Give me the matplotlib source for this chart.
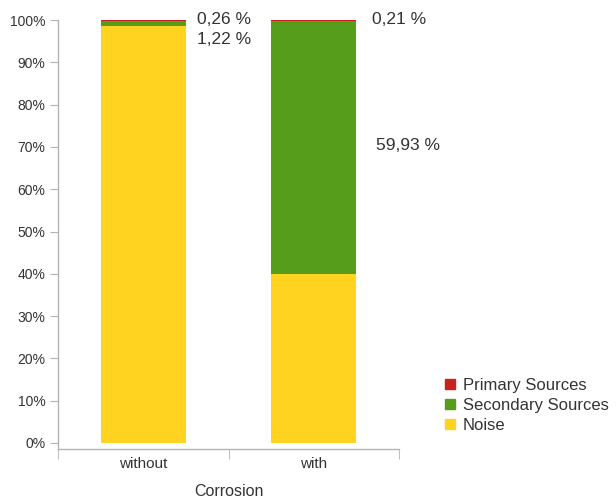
import matplotlib
matplotlib.use("Agg")
import matplotlib.pyplot as plt
import numpy as np
from matplotlib.patches import Patch

plt.rcParams["font.family"] = ["Liberation Sans", "DejaVu Sans"]

categories = ["without", "with"]
noise = [98.52, 39.86]
secondary = [1.22, 59.93]
primary = [0.26, 0.21]
series_names = ["Primary Sources", "Secondary Sources", "Noise"]

C_NOISE = "#FFD320"
C_SEC = "#579D1C"
C_PRI = "#C9211E"
TXT = "#333333"
GRID = "#b3b3b3"

W, H = 616, 501
fig = plt.figure(figsize=(W / 100, H / 100), dpi=100)
ax = fig.add_axes([58 / W, (H - 449) / H, (399 - 58) / W, (449 - 20) / H])

x = np.arange(len(categories))
n = np.array(noise) / 100
s = np.array(secondary) / 100
p = np.array(primary) / 100
ax.bar(x, n, 0.5, color=C_NOISE, linewidth=0)
ax.bar(x, s, 0.5, bottom=n, color=C_SEC, linewidth=0)
ax.bar(x, p, 0.5, bottom=n + s, color=C_PRI, linewidth=0)

ax.set_xlim(-0.5, 1.5)
ax.set_ylim(-6 / 423, 1.0)

ax.set_yticks(np.linspace(0, 1, 11))
ax.set_yticklabels([f"{v}%" for v in range(0, 101, 10)], fontsize=10, color=TXT)
ax.set_xticks(x)
ax.set_xticklabels(categories, fontsize=11, color=TXT)
ax.set_xticks([-0.5, 0.5, 1.5], minor=True)
ax.tick_params(axis="x", which="major", length=0, pad=6)
ax.tick_params(axis="x", which="minor", length=7, color=GRID)
ax.tick_params(axis="y", length=6, color=GRID, pad=3)
ax.set_xlabel("Corrosion", fontsize=11.5, color=TXT, labelpad=9)

for side in ["top", "right"]:
    ax.spines[side].set_visible(False)
for side in ["left", "bottom"]:
    ax.spines[side].set_color(GRID)
    ax.spines[side].set_linewidth(1.0)

# value labels
def pct(v):
    return f"{v:.2f} %".replace(".", ",")

ax.text(0.315, 1.0, pct(primary[0]), fontsize=12.5, color=TXT, va="center", ha="left")
ax.text(0.315, 0.953, pct(secondary[0]), fontsize=12.5, color=TXT, va="center", ha="left")
ax.text(1.34, 1.0, pct(primary[1]), fontsize=12.5, color=TXT, va="center", ha="left")
ax.text(1.365, 0.704, pct(secondary[1]), fontsize=12.5, color=TXT, va="center", ha="left")

handles = [Patch(color=C_PRI), Patch(color=C_SEC), Patch(color=C_NOISE)]
fig.legend(handles, series_names, loc="upper left", bbox_to_anchor=(437 / W, 1 - 370 / H),
           frameon=False, fontsize=12, handlelength=0.55, handleheight=0.55,
           handletextpad=0.5, labelspacing=0.3, labelcolor=TXT, borderpad=0)

fig.savefig("out.png", dpi=100)
